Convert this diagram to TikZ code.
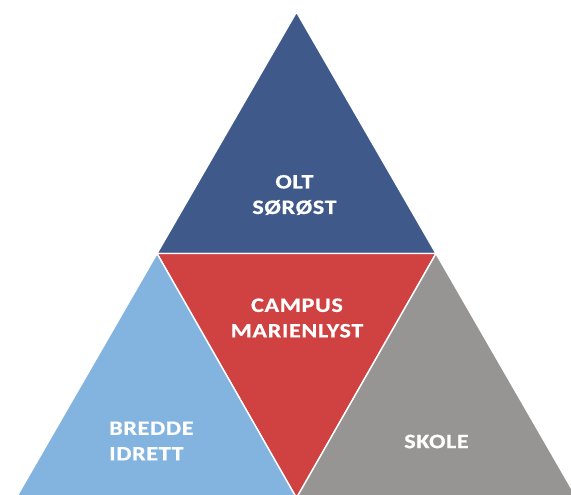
\documentclass[tikz,border=0pt]{standalone}
\usepackage{fontspec}
\setmainfont{Carlito}[BoldFeatures={FakeStretch=1.18,LetterSpace=3,FakeBold=0.6}]
\definecolor{oltblue}{HTML}{3F5A8A}
\definecolor{campred}{HTML}{D04141}
\definecolor{lightblue}{HTML}{83B4E0}
\definecolor{skolegray}{HTML}{969594}
\begin{document}
\begin{tikzpicture}[x=1pt,y=-1pt,
  piece/.style={draw=white,line width=1.4pt,line join=miter},
  lbl/.style={text=white,font=\fontsize{20.5}{25.5}\selectfont\bfseries,align=center,inner sep=0pt}]
\useasboundingbox (0,0) rectangle (571,495);
\clip (0,0) rectangle (571,495);
\coordinate (A) at (296.5,12);
\coordinate (B) at (16,498);
\coordinate (C) at (577,498);
\coordinate (L) at (157,253.5);
\coordinate (R) at (436,253.5);
\coordinate (M) at (296.5,498);
\fill[white] (0,0) rectangle (571,495);
\filldraw[piece,fill=oltblue] (A) -- (R) -- (L) -- cycle;
\filldraw[piece,fill=campred] (L) -- (R) -- (M) -- cycle;
\filldraw[piece,fill=lightblue] (L) -- (M) -- (B) -- cycle;
\filldraw[piece,fill=skolegray] (R) -- (C) -- (M) -- cycle;
\node[lbl] (olt) at (294.5,195) {OLT\\SØRØST};
\node[lbl] (campus) at (297,318) {CAMPUS\\MARIENLYST};
\node[lbl,align=left,anchor=west] (bredde) at (109,441) {BREDDE\\IDRETT};
\node[lbl] (skole) at (436.5,441.5) {SKOLE};
\end{tikzpicture}
\end{document}
